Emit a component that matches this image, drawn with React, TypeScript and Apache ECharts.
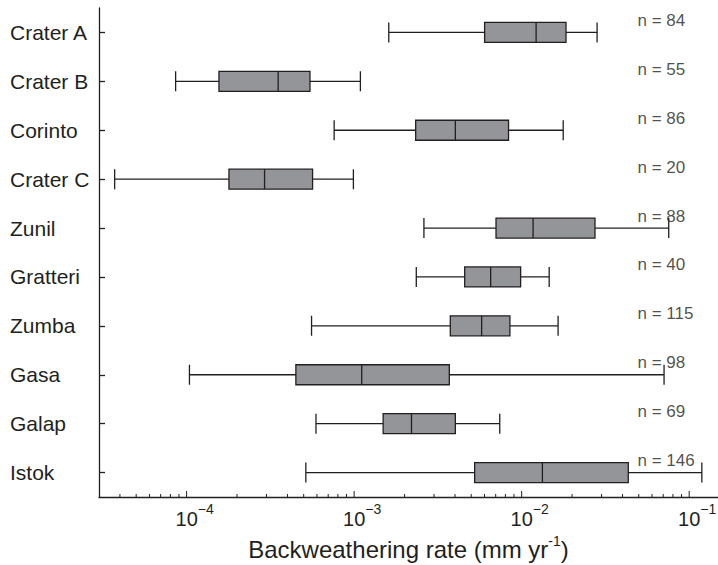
import React, { useEffect, useRef } from "react";
import * as echarts from "echarts";

const categories = ["Crater A", "Crater B", "Corinto", "Crater C", "Zunil", "Gratteri", "Zumba", "Gasa", "Galap", "Istok"];
const mins = [1.61e-3, 8.6e-5, 7.6e-4, 3.72e-5, 2.61e-3, 2.35e-3, 5.57e-4, 1.04e-4, 5.92e-4, 5.15e-4];
const q1s = [6.01e-3, 1.56e-4, 2.33e-3, 1.79e-4, 7.03e-3, 4.57e-3, 3.75e-3, 4.49e-4, 1.49e-3, 5.24e-3];
const medians = [1.22e-2, 3.52e-4, 4.02e-3, 2.92e-4, 1.17e-2, 6.53e-3, 5.77e-3, 1.11e-3, 2.2e-3, 1.33e-2];
const q3s = [1.84e-2, 5.45e-4, 8.35e-3, 5.65e-4, 2.74e-2, 9.86e-3, 8.51e-3, 3.7e-3, 4.02e-3, 4.33e-2];
const maxs = [2.82e-2, 1.09e-3, 1.77e-2, 9.9e-4, 7.55e-2, 1.46e-2, 1.65e-2, 7.08e-2, 7.4e-3, 0.119];
const nCounts = [84, 55, 86, 20, 88, 40, 115, 98, 69, 146];
const majorTicks = [1e-4, 1e-3, 1e-2, 1e-1];

const X_MIN = 3e-5;
const X_MAX = 0.1486;
const N_LABEL_X = 0.0488;
const INK = "#231f20";
const FONT = "Liberation Sans, Arial, sans-serif";

function buildMinorTicks(): number[] {
  const out: number[] = [];
  for (let e = -5; e <= -1; e++) {
    for (let m = 2; m <= 9; m++) {
      const v = m * Math.pow(10, e);
      if (v > X_MIN * 1.01 && v < X_MAX) out.push(v);
    }
  }
  return out;
}

export default function App() {
  const ref = useRef<HTMLDivElement>(null);
  useEffect(() => {
    if (!ref.current) return;
    const chart = echarts.init(ref.current, undefined, { renderer: "svg" });
    const boxData = categories.map((_, i) => [mins[i], q1s[i], medians[i], q3s[i], maxs[i]]);
    const tickData = [
      ...majorTicks.map((v) => [v, 0, 6]),
      ...buildMinorTicks().map((v) => [v, 0, 3]),
    ];
    const nData = categories.map((_, i) => [N_LABEL_X, i]);
    chart.setOption({
      animation: false,
      textStyle: { fontFamily: FONT, color: INK },
      grid: { left: 99, right: 0, top: 8, bottom: 68, outerBoundsMode: "none" },
      xAxis: {
        type: "log",
        logBase: 10,
        min: X_MIN,
        max: X_MAX,
        axisLine: { show: true, lineStyle: { color: INK, width: 1.3 } },
        axisTick: { show: false },
        minorTick: { show: false },
        splitLine: { show: false },
        axisLabel: {
          margin: 4,
          formatter: (v: number) => {
            const e = Math.log10(v);
            const r = Math.round(e);
            if (Math.abs(e - r) > 1e-6) return "";
            return `{p| }{b|10}{s|${r < 0 ? "\u2212" : ""}${Math.abs(r)}}`;
          },
          rich: {
            p: { width: 16, fontSize: 14, lineHeight: 14, verticalAlign: "top" },
            b: { fontSize: 20, lineHeight: 36, verticalAlign: "middle", color: INK, fontFamily: FONT },
            s: { fontSize: 14, lineHeight: 14, padding: [1, 0, 0, 0], verticalAlign: "top", color: INK, fontFamily: FONT },
          },
        },
        name: "{t|Backweathering rate (mm yr}{s|-1}{t|)}",
        nameLocation: "middle",
        nameGap: 20,
        nameTextStyle: {
          rich: {
            t: { fontSize: 24, lineHeight: 28, verticalAlign: "bottom", color: INK, fontFamily: FONT },
            s: { fontSize: 14, lineHeight: 22, verticalAlign: "top", color: INK, fontFamily: FONT },
          },
        },
      },
      yAxis: {
        type: "category",
        data: categories,
        inverse: true,
        axisLine: { show: true, lineStyle: { color: INK, width: 1.3 } },
        axisTick: { show: true, inside: true, length: 6, alignWithLabel: true, lineStyle: { color: INK, width: 1.3 } },
        splitLine: { show: false },
        axisLabel: { margin: 89, align: "left", fontSize: 21, color: INK, fontFamily: FONT },
      },
      series: [
        {
          type: "boxplot",
          data: boxData,
          boxWidth: [20, 20],
          itemStyle: { color: "#939598", borderColor: INK, borderWidth: 1.3 },
          emphasis: { disabled: true },
        },
        {
          type: "custom",
          data: tickData,
          silent: true,
          clip: false,
          renderItem: (params: any, api: any) => {
            const x = api.coord([api.value(0), 0])[0];
            const cs = params.coordSys;
            const bottom = cs.y + cs.height;
            return {
              type: "line",
              shape: { x1: x, y1: bottom, x2: x, y2: bottom - api.value(2) },
              style: { stroke: INK, lineWidth: 1 },
            };
          },
        },
        {
          type: "scatter",
          data: nData,
          symbolSize: 1,
          silent: true,
          itemStyle: { color: "rgba(0,0,0,0)" },
          label: {
            show: true,
            position: "right",
            distance: 0,
            offset: [0, -12],
            fontSize: 17,
            color: INK,
            fontFamily: FONT,
            formatter: (p: any) => `n = ${nCounts[p.dataIndex]}`,
          },
        },
      ],
    });
    return () => chart.dispose();
  }, []);
  return <div ref={ref} style={{ position: "absolute", left: 0, top: 0, width: 718, height: 565 }} />;
}
